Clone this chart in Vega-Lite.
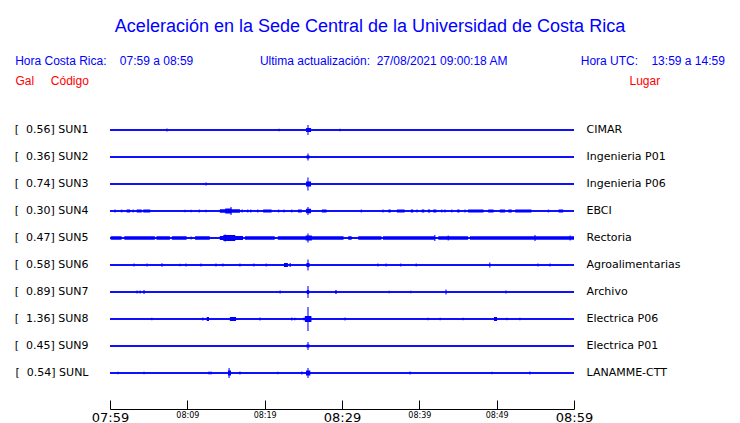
{
  "$schema": "https://vega.github.io/schema/vega-lite/v6.json",
  "width": 464,
  "height": 292,
  "autosize": "none",
  "padding": {"left": 110, "top": 117, "right": 166, "bottom": 14},
  "background": "white",
  "config": {"view": {"stroke": null}, "font": "Liberation Sans"},
  "title": {
    "text": "Aceleración en la Sede Central de la Universidad de Costa Rica",
    "subtitle": "Hora Costa Rica:\u00a0\u00a0\u00a0\u00a007:59 a 08:59\u00a0\u00a0\u00a0\u00a0\u00a0\u00a0\u00a0\u00a0\u00a0\u00a0\u00a0\u00a0\u00a0\u00a0\u00a0\u00a0\u00a0\u00a0\u00a0\u00a0Ultima actualización:\u00a0\u00a027/08/2021 09:00:18 AM\u00a0\u00a0\u00a0\u00a0\u00a0\u00a0\u00a0\u00a0\u00a0\u00a0\u00a0\u00a0\u00a0\u00a0\u00a0\u00a0\u00a0\u00a0\u00a0\u00a0\u00a0\u00a0Hora UTC:\u00a0\u00a0\u00a0\u00a013:59 a 14:59",
    "anchor": "middle",
    "frame": "group",
    "dx": 28,
    "offset": 7,
    "font": "Liberation Sans",
    "fontSize": 18,
    "fontWeight": "normal",
    "color": "#0000ff",
    "subtitleFont": "Liberation Sans",
    "subtitleFontSize": 12,
    "subtitleColor": "#0000ff",
    "subtitlePadding": 20
  },
  "datasets": {
    "estaciones": [
      {"codigo": "SUN1", "orden": 1, "etiqueta": "[\u00a0\u00a00.56] SUN1", "lugar": "CIMAR"},
      {"codigo": "SUN2", "orden": 2, "etiqueta": "[\u00a0\u00a00.36] SUN2", "lugar": "Ingenieria P01"},
      {"codigo": "SUN3", "orden": 3, "etiqueta": "[\u00a0\u00a00.74] SUN3", "lugar": "Ingenieria P06"},
      {"codigo": "SUN4", "orden": 4, "etiqueta": "[\u00a0\u00a00.30] SUN4", "lugar": "EBCI"},
      {"codigo": "SUN5", "orden": 5, "etiqueta": "[\u00a0\u00a00.47] SUN5", "lugar": "Rectoria"},
      {"codigo": "SUN6", "orden": 6, "etiqueta": "[\u00a0\u00a00.58] SUN6", "lugar": "Agroalimentarias"},
      {"codigo": "SUN7", "orden": 7, "etiqueta": "[\u00a0\u00a00.89] SUN7", "lugar": "Archivo"},
      {"codigo": "SUN8", "orden": 8, "etiqueta": "[\u00a0\u00a01.36] SUN8", "lugar": "Electrica P06"},
      {"codigo": "SUN9", "orden": 9, "etiqueta": "[\u00a0\u00a00.45] SUN9", "lugar": "Electrica P01"},
      {"codigo": "SUNL", "orden": 10, "etiqueta": "[\u00a0\u00a00.54] SUNL", "lugar": "LANAMME-CTT"}
    ],
    "eventos": [
      {"codigo": "SUN1", "t": 7.37, "amp": 3}, {"codigo": "SUN1", "t": 21.85, "amp": 2.5}, {"codigo": "SUN1", "t": 25.6, "amp": 10}, {"codigo": "SUN1", "t": 29.74, "amp": 2.5},
      {"codigo": "SUN2", "t": 25.6, "amp": 7},
      {"codigo": "SUN3", "t": 12.41, "amp": 3}, {"codigo": "SUN3", "t": 25.6, "amp": 13},
      {"codigo": "SUN4", "t": 0.65, "amp": 3}, {"codigo": "SUN4", "t": 1.5, "amp": 3}, {"codigo": "SUN4", "t": 3.0, "amp": 3}, {"codigo": "SUN4", "t": 9.7, "amp": 2.5}, {"codigo": "SUN4", "t": 10.5, "amp": 2.5}, {"codigo": "SUN4", "t": 11.55, "amp": 3}, {"codigo": "SUN4", "t": 12.4, "amp": 2.5}, {"codigo": "SUN4", "t": 15.65, "amp": 8}, {"codigo": "SUN4", "t": 17.1, "amp": 3}, {"codigo": "SUN4", "t": 17.8, "amp": 3}, {"codigo": "SUN4", "t": 18.2, "amp": 3}, {"codigo": "SUN4", "t": 19.1, "amp": 3}, {"codigo": "SUN4", "t": 21.8, "amp": 3}, {"codigo": "SUN4", "t": 22.5, "amp": 3}, {"codigo": "SUN4", "t": 23.5, "amp": 3}, {"codigo": "SUN4", "t": 25.6, "amp": 8}, {"codigo": "SUN4", "t": 32.5, "amp": 3}, {"codigo": "SUN4", "t": 35.3, "amp": 3}, {"codigo": "SUN4", "t": 39.7, "amp": 3}, {"codigo": "SUN4", "t": 42.9, "amp": 3}, {"codigo": "SUN4", "t": 43.3, "amp": 3}, {"codigo": "SUN4", "t": 44.2, "amp": 3}, {"codigo": "SUN4", "t": 45.9, "amp": 3}, {"codigo": "SUN4", "t": 56.7, "amp": 3},
      {"codigo": "SUN5", "t": 10.5, "amp": 3}, {"codigo": "SUN5", "t": 14.9, "amp": 7}, {"codigo": "SUN5", "t": 25.6, "amp": 9}, {"codigo": "SUN5", "t": 42.0, "amp": 6}, {"codigo": "SUN5", "t": 43.75, "amp": 5}, {"codigo": "SUN5", "t": 54.96, "amp": 6}, {"codigo": "SUN5", "t": 59.5, "amp": 5},
      {"codigo": "SUN6", "t": 3.1, "amp": 3}, {"codigo": "SUN6", "t": 4.8, "amp": 3}, {"codigo": "SUN6", "t": 6.72, "amp": 3.5}, {"codigo": "SUN6", "t": 9.05, "amp": 2.5}, {"codigo": "SUN6", "t": 9.83, "amp": 3}, {"codigo": "SUN6", "t": 11.77, "amp": 3}, {"codigo": "SUN6", "t": 13.7, "amp": 3}, {"codigo": "SUN6", "t": 14.6, "amp": 3}, {"codigo": "SUN6", "t": 16.8, "amp": 3}, {"codigo": "SUN6", "t": 18.6, "amp": 3}, {"codigo": "SUN6", "t": 20.2, "amp": 3}, {"codigo": "SUN6", "t": 23.3, "amp": 4}, {"codigo": "SUN6", "t": 25.6, "amp": 11}, {"codigo": "SUN6", "t": 34.65, "amp": 3}, {"codigo": "SUN6", "t": 35.7, "amp": 3}, {"codigo": "SUN6", "t": 37.6, "amp": 3}, {"codigo": "SUN6", "t": 39.6, "amp": 3}, {"codigo": "SUN6", "t": 49.1, "amp": 5}, {"codigo": "SUN6", "t": 55.35, "amp": 3}, {"codigo": "SUN6", "t": 56.9, "amp": 3},
      {"codigo": "SUN7", "t": 3.5, "amp": 3}, {"codigo": "SUN7", "t": 3.9, "amp": 3}, {"codigo": "SUN7", "t": 4.4, "amp": 4}, {"codigo": "SUN7", "t": 22.0, "amp": 3}, {"codigo": "SUN7", "t": 25.6, "amp": 12}, {"codigo": "SUN7", "t": 29.2, "amp": 3}, {"codigo": "SUN7", "t": 36.1, "amp": 2.5}, {"codigo": "SUN7", "t": 38.9, "amp": 2.5}, {"codigo": "SUN7", "t": 43.45, "amp": 5}, {"codigo": "SUN7", "t": 51.2, "amp": 3},
      {"codigo": "SUN8", "t": 5.4, "amp": 2.5}, {"codigo": "SUN8", "t": 12.0, "amp": 3}, {"codigo": "SUN8", "t": 19.4, "amp": 3}, {"codigo": "SUN8", "t": 23.5, "amp": 3}, {"codigo": "SUN8", "t": 23.9, "amp": 2.5}, {"codigo": "SUN8", "t": 25.1, "amp": 3}, {"codigo": "SUN8", "t": 25.6, "amp": 24}, {"codigo": "SUN8", "t": 30.4, "amp": 3}, {"codigo": "SUN8", "t": 41.1, "amp": 2.5}, {"codigo": "SUN8", "t": 42.7, "amp": 2.5}, {"codigo": "SUN8", "t": 45.65, "amp": 2.5}, {"codigo": "SUN8", "t": 51.3, "amp": 2.5}, {"codigo": "SUN8", "t": 53.0, "amp": 2.5},
      {"codigo": "SUN9", "t": 25.6, "amp": 8},
      {"codigo": "SUNL", "t": 1.03, "amp": 2.5}, {"codigo": "SUNL", "t": 4.4, "amp": 2.5}, {"codigo": "SUNL", "t": 12.8, "amp": 3}, {"codigo": "SUNL", "t": 13.06, "amp": 3}, {"codigo": "SUNL", "t": 15.4, "amp": 10}, {"codigo": "SUNL", "t": 16.8, "amp": 3}, {"codigo": "SUNL", "t": 21.7, "amp": 2.5}, {"codigo": "SUNL", "t": 24.8, "amp": 3}, {"codigo": "SUNL", "t": 25.6, "amp": 10}, {"codigo": "SUNL", "t": 38.8, "amp": 3}, {"codigo": "SUNL", "t": 49.4, "amp": 2.5}, {"codigo": "SUNL", "t": 54.3, "amp": 3}
    ],
    "rafagas": [
      {"codigo": "SUN1", "t0": 25.35, "t1": 26.0, "amp": 4},
      {"codigo": "SUN2", "t0": 25.4, "t1": 25.8, "amp": 3},
      {"codigo": "SUN3", "t0": 25.35, "t1": 26.0, "amp": 5},
      {"codigo": "SUN4", "t0": 2.15, "t1": 2.6, "amp": 3}, {"codigo": "SUN4", "t0": 3.45, "t1": 4.1, "amp": 3}, {"codigo": "SUN4", "t0": 4.3, "t1": 5.2, "amp": 3}, {"codigo": "SUN4", "t0": 14.2, "t1": 16.8, "amp": 3.5}, {"codigo": "SUN4", "t0": 14.9, "t1": 15.7, "amp": 5}, {"codigo": "SUN4", "t0": 19.8, "t1": 20.9, "amp": 3}, {"codigo": "SUN4", "t0": 24.3, "t1": 24.8, "amp": 3}, {"codigo": "SUN4", "t0": 25.35, "t1": 26.0, "amp": 4.5}, {"codigo": "SUN4", "t0": 27.4, "t1": 28.0, "amp": 3}, {"codigo": "SUN4", "t0": 36.0, "t1": 36.3, "amp": 3}, {"codigo": "SUN4", "t0": 37.1, "t1": 38.1, "amp": 3}, {"codigo": "SUN4", "t0": 38.9, "t1": 39.2, "amp": 3}, {"codigo": "SUN4", "t0": 40.3, "t1": 40.65, "amp": 3}, {"codigo": "SUN4", "t0": 41.1, "t1": 41.4, "amp": 3}, {"codigo": "SUN4", "t0": 41.8, "t1": 42.2, "amp": 3}, {"codigo": "SUN4", "t0": 44.9, "t1": 45.2, "amp": 3}, {"codigo": "SUN4", "t0": 46.3, "t1": 48.3, "amp": 3}, {"codigo": "SUN4", "t0": 48.9, "t1": 49.6, "amp": 3}, {"codigo": "SUN4", "t0": 50.4, "t1": 51.1, "amp": 3}, {"codigo": "SUN4", "t0": 51.5, "t1": 51.95, "amp": 3}, {"codigo": "SUN4", "t0": 52.4, "t1": 54.5, "amp": 3}, {"codigo": "SUN4", "t0": 58.0, "t1": 58.6, "amp": 3},
      {"codigo": "SUN5", "t0": 0.1, "t1": 1.5, "amp": 3.5}, {"codigo": "SUN5", "t0": 1.85, "t1": 5.8, "amp": 3.5}, {"codigo": "SUN5", "t0": 6.0, "t1": 7.75, "amp": 3.5}, {"codigo": "SUN5", "t0": 8.0, "t1": 9.9, "amp": 3.5}, {"codigo": "SUN5", "t0": 11.0, "t1": 12.9, "amp": 3.5}, {"codigo": "SUN5", "t0": 14.2, "t1": 17.2, "amp": 4}, {"codigo": "SUN5", "t0": 14.65, "t1": 16.2, "amp": 6}, {"codigo": "SUN5", "t0": 17.45, "t1": 21.3, "amp": 3.5}, {"codigo": "SUN5", "t0": 21.7, "t1": 30.2, "amp": 3.5}, {"codigo": "SUN5", "t0": 25.3, "t1": 26.1, "amp": 5}, {"codigo": "SUN5", "t0": 30.8, "t1": 31.25, "amp": 3.5}, {"codigo": "SUN5", "t0": 32.1, "t1": 35.1, "amp": 3.5}, {"codigo": "SUN5", "t0": 35.3, "t1": 42.0, "amp": 3.5}, {"codigo": "SUN5", "t0": 42.45, "t1": 46.3, "amp": 3.5}, {"codigo": "SUN5", "t0": 46.55, "t1": 60.0, "amp": 3.5},
      {"codigo": "SUN6", "t0": 22.5, "t1": 23.0, "amp": 4}, {"codigo": "SUN6", "t0": 25.4, "t1": 25.8, "amp": 4},
      {"codigo": "SUN7", "t0": 29.1, "t1": 29.35, "amp": 3}, {"codigo": "SUN7", "t0": 25.45, "t1": 25.75, "amp": 4},
      {"codigo": "SUN8", "t0": 12.5, "t1": 12.8, "amp": 4}, {"codigo": "SUN8", "t0": 15.5, "t1": 16.3, "amp": 4}, {"codigo": "SUN8", "t0": 25.2, "t1": 26.05, "amp": 6}, {"codigo": "SUN8", "t0": 49.65, "t1": 50.05, "amp": 4},
      {"codigo": "SUN9", "t0": 25.4, "t1": 25.8, "amp": 3},
      {"codigo": "SUNL", "t0": 15.25, "t1": 15.65, "amp": 5}, {"codigo": "SUNL", "t0": 25.35, "t1": 25.9, "amp": 5}
    ]
  },
  "layer": [
    {
      "layer": [
        {
          "data": {"name": "estaciones"},
          "mark": {"type": "rule", "color": "#0000ff", "strokeWidth": 1.5},
          "encoding": {
            "x": {
              "datum": 0,
              "type": "quantitative",
              "scale": {"domain": [0, 60], "nice": false, "zero": false},
              "axis": {
                "values": [0, 5, 10, 15, 20, 25, 30, 35, 40, 45, 50, 55, 60],
                "title": null,
                "grid": false,
                "domainColor": "black",
                "domainWidth": 1,
                "tickColor": "black",
                "tickWidth": 1,
                "tickSize": -9,
                "labelPadding": 11,
                "labelFont": "DejaVu Sans",
                "labelColor": "black",
                "labelFlush": false,
                "labelOverlap": false,
                "labelBound": false,
                "labelFontSize": {"condition": {"test": "datum.value % 30 == 0", "value": 13}, "value": 8},
                "labelExpr": "datum.value % 10 == 0 ? timeFormat(datetime(2021, 7, 27, 7, 59 + datum.value), '%H:%M') : ''"
              }
            },
            "x2": {"datum": 60},
            "y": {
              "field": "etiqueta",
              "type": "nominal",
              "sort": {"field": "orden", "op": "min"},
              "scale": {"type": "point", "padding": 0.9074, "align": 0.2653},
              "axis": {
                "title": "Gal\u00a0\u00a0\u00a0\u00a0\u00a0Código",
                "titleAngle": 0,
                "titleAlign": "left",
                "titleBaseline": "middle",
                "titleX": -95,
                "titleY": -37,
                "titleColor": "#ff0000",
                "titleFont": "Liberation Sans",
                "titleFontSize": 12,
                "titleFontWeight": "normal",
                "domain": false,
                "ticks": false,
                "grid": false,
                "labelPadding": 22,
                "labelFont": "DejaVu Sans",
                "labelFontSize": 11,
                "labelColor": "black"
              }
            }
          }
        },
        {
          "data": {"name": "rafagas"},
          "transform": [{"lookup": "codigo", "from": {"data": {"name": "estaciones"}, "key": "codigo", "fields": ["etiqueta", "orden"]}}],
          "mark": {"type": "bar", "color": "#0000ff"},
          "encoding": {
            "x": {"field": "t0", "type": "quantitative"},
            "x2": {"field": "t1"},
            "y": {"field": "etiqueta", "type": "nominal", "sort": {"field": "orden", "op": "min"}},
            "size": {"field": "amp", "type": "quantitative", "scale": {"domain": [0, 25], "range": [0, 25]}, "legend": null}
          }
        },
        {
          "data": {"name": "eventos"},
          "transform": [{"lookup": "codigo", "from": {"data": {"name": "estaciones"}, "key": "codigo", "fields": ["etiqueta", "orden"]}}],
          "mark": {"type": "tick", "color": "#0000ff", "thickness": 1.5, "orient": "vertical"},
          "encoding": {
            "x": {"field": "t", "type": "quantitative"},
            "y": {"field": "etiqueta", "type": "nominal", "sort": {"field": "orden", "op": "min"}},
            "size": {"field": "amp", "type": "quantitative", "scale": {"domain": [0, 25], "range": [0, 25]}, "legend": null}
          }
        }
      ]
    },
    {
      "data": {"name": "estaciones"},
      "mark": {"type": "rule", "color": "#0000ff", "strokeWidth": 1.5},
      "encoding": {
        "x": {"datum": 0, "type": "quantitative"},
        "x2": {"datum": 60},
        "y": {
          "field": "lugar",
          "type": "nominal",
          "sort": {"field": "orden", "op": "min"},
          "scale": {"type": "point", "padding": 0.9074, "align": 0.2653},
          "axis": {
            "orient": "right",
            "title": "Lugar",
            "titleAngle": 0,
            "titleAlign": "left",
            "titleBaseline": "middle",
            "titleX": 55,
            "titleY": -37,
            "titleColor": "#ff0000",
            "titleFont": "Liberation Sans",
            "titleFontSize": 12,
            "titleFontWeight": "normal",
            "domain": false,
            "ticks": false,
            "grid": false,
            "labelPadding": 12,
            "labelFont": "DejaVu Sans",
            "labelFontSize": 11,
            "labelColor": "black"
          }
        }
      }
    }
  ],
  "resolve": {"scale": {"y": "independent"}, "axis": {"y": "independent"}}
}
